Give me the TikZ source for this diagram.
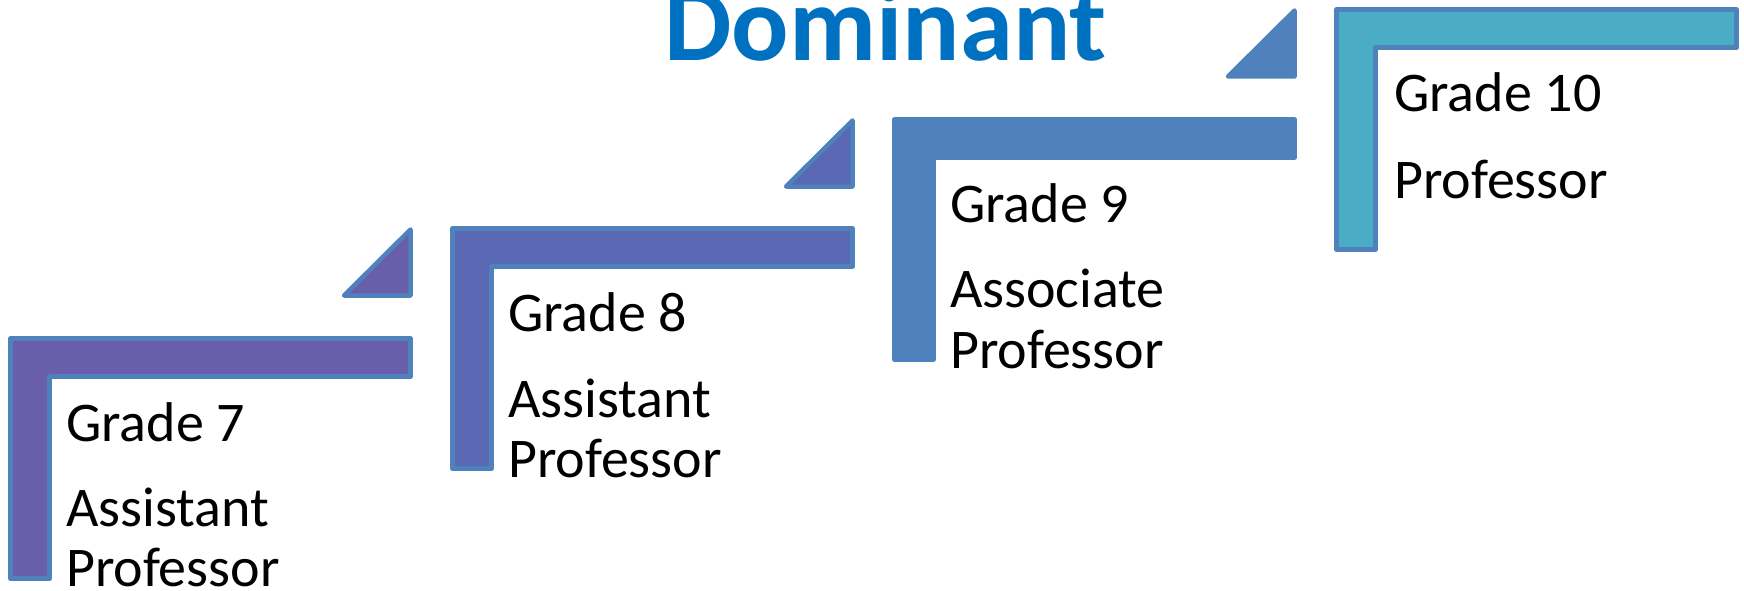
\documentclass[tikz,border=0pt]{standalone}
\usepackage{fontspec}
\setmainfont{Carlito}
\definecolor{outl}{HTML}{4F81BD}
\definecolor{cone}{HTML}{685EA9}
\definecolor{ctwo}{HTML}{5A67B3}
\definecolor{cthree}{HTML}{4F81BD}
\definecolor{cfour}{HTML}{4BACC6}
\definecolor{titleblue}{HTML}{0070C0}
\tikzset{
  stepshape/.style={draw=outl, line width=4.5pt, line join=round},
  lbl/.style={anchor=base west, inner sep=0pt, font=\fontsize{56}{60}\selectfont, text=black},
  ttl/.style={anchor=base, inner sep=0pt, font=\fontsize{107}{110}\selectfont\bfseries, text=titleblue},
}
\newcommand\ladderstep[3]{%
  \begin{scope}[shift={(#1,#2)}]
    \draw[stepshape, fill=#3] (2.5,2.5) -- (402.5,2.5) -- (402.5,40.5) -- (41.5,40.5) -- (41.5,242.5) -- (2.5,242.5) -- cycle;
  \end{scope}}
\newcommand\laddertri[3]{%
  \begin{scope}[shift={(#1,#2)}]
    \draw[stepshape, fill=#3] (-69,69.5) -- (-2.5,69.5) -- (-2.5,3.5) -- cycle;
  \end{scope}}
\begin{document}
\begin{tikzpicture}[x=1pt, y=-1pt]
  \useasboundingbox (0,0) rectangle (1744,591);
  % steps
  \ladderstep{8}{336}{cone}
  \ladderstep{450}{226}{ctwo}
  \ladderstep{892}{117}{cthree}
  \ladderstep{1334}{7}{cfour}
  % triangles
  \laddertri{413}{226}{cone}
  \laddertri{855}{117}{ctwo}
  \laddertri{1297}{7}{cthree}
  % title
  \node[ttl] (title) at (885.5,61) {Dominant};
  % labels
  \node[lbl] (g7) at (66,441) {Grade 7};
  \node[lbl] (g7a) at (66,526) {Assistant};
  \node[lbl] (g7b) at (66,586) {Professor};
  \node[lbl] (g8) at (508,331) {Grade 8};
  \node[lbl] (g8a) at (508,417) {Assistant};
  \node[lbl] (g8b) at (508,477) {Professor};
  \node[lbl] (g9) at (950,222) {Grade 9};
  \node[lbl] (g9a) at (950,307) {Associate};
  \node[lbl] (g9b) at (950,368) {Professor};
  \node[lbl] (g10) at (1394,112) {Grade 10};
  \node[lbl] (g10a) at (1394,198) {Professor};
\end{tikzpicture}
\end{document}
